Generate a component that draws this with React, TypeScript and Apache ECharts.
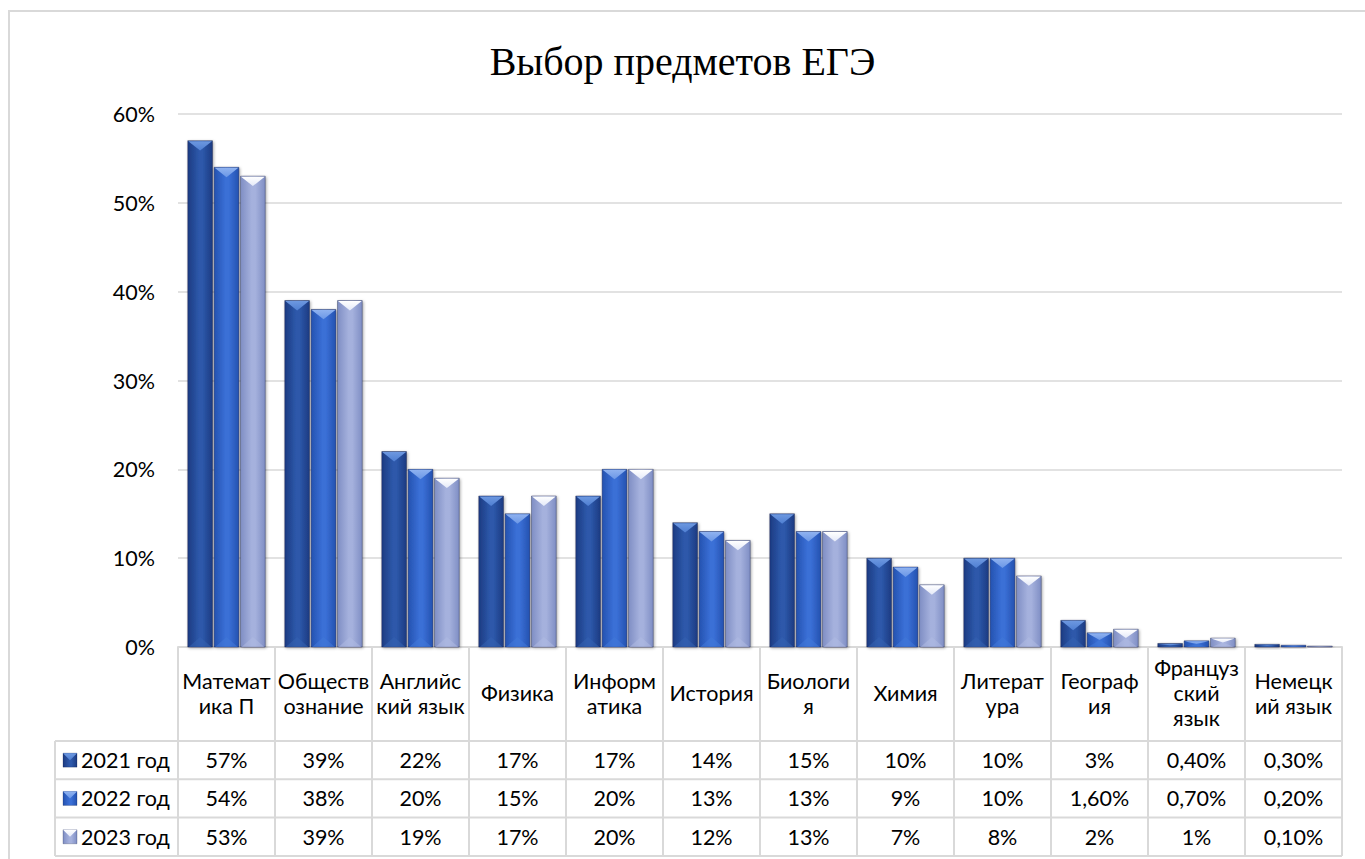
import React, { useEffect, useRef } from "react";
import * as echarts from "echarts";

const categories = [
  "Математика П", "Обществознание", "Английский язык", "Физика", "Информатика",
  "История", "Биология", "Химия", "Литература", "География", "Французский язык", "Немецкий язык",
];
const headerLabels = [
  "Математ\nика П", "Обществ\nознание", "Английс\nкий язык", "Физика", "Информ\nатика",
  "История", "Биологи\nя", "Химия", "Литерат\nура", "Географ\nия", "Француз\nский\nязык", "Немецк\nий язык",
];
const seriesNames = ["2021 год", "2022 год", "2023 год"];
const values2021 = [57, 39, 22, 17, 17, 14, 15, 10, 10, 3, 0.4, 0.3];
const values2022 = [54, 38, 20, 15, 20, 13, 13, 9, 10, 1.6, 0.7, 0.2];
const values2023 = [53, 39, 19, 17, 20, 12, 13, 7, 8, 2, 1, 0.1];
const yTicks = [0, 10, 20, 30, 40, 50, 60];
const allValues = [values2021, values2022, values2023];

const palettes = [
  { edge: "#1c3b82", mid: "#2d58aa", top: "#4f7fd2", topHi: "#6d98e0", bottom: "#3462b0" },
  { edge: "#2452b0", mid: "#3a6fd6", top: "#6b97e6", topHi: "#8fb2f0", bottom: "#4278d8" },
  { edge: "#7f8ec4", mid: "#a5b1dd", top: "#e4e9f8", topHi: "#ffffff", bottom: "#aeb9e2" },
];

const FONT = "Lato";
const FS = 21.5;
const W = 1365;
const H = 859;
const GRID_L = 178;
const GRID_R = 1342;
const GRID_T = 114;
const GRID_B = 647;
const HEADER_B = 741;
const ROW_H = 38.3;
const LEG_L = 55;
const LINE = "#d9d9d9";

function fmt(v: number): string {
  if (Number.isInteger(v)) return v + "%";
  return v.toFixed(2).replace(".", ",") + "%";
}

function bodyGradient(p: any) {
  return new echarts.graphic.LinearGradient(0, 0, 1, 0, [
    { offset: 0, color: p.edge },
    { offset: 0.45, color: p.mid },
    { offset: 0.6, color: p.mid },
    { offset: 1, color: p.edge },
  ]);
}

function topGradient(p: any) {
  return new echarts.graphic.LinearGradient(0, 0, 0, 1, [
    { offset: 0, color: p.topHi },
    { offset: 1, color: p.top },
  ]);
}

function makeRenderItem(s: number) {
  return (params: any, api: any) => {
    const idx = api.value(0);
    const v = api.value(1);
    const top = api.coord([idx, v]);
    const base = api.coord([idx, 0]);
    const band = api.size([1, 0])[0];
    const barW = band * 0.255;
    const gap = band * 0.017;
    const cx = top[0] + (s - 1) * (barW + gap);
    const x0 = cx - barW / 2;
    const x1 = cx + barW / 2;
    const yT = top[1];
    const yB = base[1];
    const h = Math.max(yB - yT, 0.5);
    const d = Math.min(barW * 0.4, h / 2);
    const p = palettes[s];
    return {
      type: "group",
      children: [
        {
          type: "rect",
          shape: { x: x0, y: yT, width: barW, height: h },
          style: {
            fill: bodyGradient(p),
            stroke: "rgba(10,20,60,0.45)",
            lineWidth: 0.8,
            shadowBlur: 3,
            shadowColor: "rgba(0,0,0,0.35)",
            shadowOffsetX: 1,
            shadowOffsetY: 1,
          },
        },
        {
          type: "polygon",
          shape: { points: [[x0 + 1, yB], [x1 - 1, yB], [cx, yB - d]] },
          style: { fill: p.bottom, opacity: 0.55 },
        },
        {
          type: "polygon",
          shape: { points: [[x0 + 0.5, yT + 0.5], [x1 - 0.5, yT + 0.5], [cx, yT + d]] },
          style: { fill: topGradient(p) },
        },
      ],
    };
  };
}

function legendKey(x: number, y: number, s: number) {
  const p = palettes[s];
  const size = 14;
  return {
    type: "group",
    children: [
      {
        type: "rect",
        shape: { x, y: y - size / 2, width: size, height: size },
        style: { fill: bodyGradient(p), stroke: "rgba(10,20,60,0.4)", lineWidth: 0.6 },
      },
      {
        type: "polygon",
        shape: { points: [[x, y - size / 2], [x + size, y - size / 2], [x + size / 2, y]] },
        style: { fill: topGradient(p) },
      },
    ],
  };
}

export default function App() {
  const ref = useRef<HTMLDivElement>(null);
  useEffect(() => {
    if (!ref.current) return;
    const chart = echarts.init(ref.current, null, { renderer: "svg" });
    const n = categories.length;
    const band = (GRID_R - GRID_L) / n;
    const graphics: any[] = [];

    graphics.push({
      type: "rect",
      shape: { x: 9, y: 11, width: 1500, height: 1000 },
      style: { fill: "none", stroke: LINE, lineWidth: 2 },
      silent: true,
    });

    for (let i = 0; i <= n; i++) {
      const x = GRID_L + band * i;
      graphics.push({
        type: "line",
        shape: { x1: x, y1: GRID_B, x2: x, y2: HEADER_B + ROW_H * 3 },
        style: { stroke: LINE, lineWidth: 2 },
      });
    }
    graphics.push({
      type: "line",
      shape: { x1: LEG_L, y1: HEADER_B, x2: LEG_L, y2: HEADER_B + ROW_H * 3 },
      style: { stroke: LINE, lineWidth: 2 },
    });
    for (let r = 0; r <= 3; r++) {
      const y = HEADER_B + ROW_H * r;
      graphics.push({
        type: "line",
        shape: { x1: LEG_L, y1: y, x2: GRID_R, y2: y },
        style: { stroke: LINE, lineWidth: 2 },
      });
    }
    for (let r = 0; r < 3; r++) {
      const yc = HEADER_B + ROW_H * r + ROW_H / 2;
      graphics.push(legendKey(63, yc, r));
      graphics.push({
        type: "text",
        style: {
          text: seriesNames[r], x: 81, y: yc, align: "left", verticalAlign: "middle",
          fontSize: FS, fontFamily: FONT, fill: "#000",
        },
      });
      for (let i = 0; i < n; i++) {
        graphics.push({
          type: "text",
          style: {
            text: fmt(allValues[r][i]), x: GRID_L + band * (i + 0.5), y: yc,
            align: "center", verticalAlign: "middle",
            fontSize: FS, fontFamily: FONT, fill: "#000",
          },
        });
      }
    }

    chart.setOption({
      animation: false,
      backgroundColor: "#fff",
      title: {
        text: "Выбор предметов ЕГЭ",
        left: "center",
        top: 36,
        textStyle: { fontFamily: "Liberation Serif", fontSize: 40, fontWeight: "normal", color: "#000" },
      },
      grid: { left: GRID_L, right: W - GRID_R, top: GRID_T, bottom: H - GRID_B, containLabel: false },
      xAxis: {
        type: "category",
        data: categories,
        axisLine: { lineStyle: { color: LINE, width: 2 } },
        axisTick: { show: false },
        axisLabel: {
          interval: 0,
          formatter: (_v: string, i: number) => headerLabels[i],
          fontFamily: FONT,
          fontSize: FS,
          lineHeight: 25,
          color: "#000",
          verticalAlign: "middle",
          margin: 46,
        },
      },
      yAxis: {
        type: "value",
        min: yTicks[0],
        max: yTicks[yTicks.length - 1],
        interval: 10,
        axisLine: { show: false },
        axisTick: { show: false },
        splitLine: { lineStyle: { color: LINE, width: 1.5 } },
        axisLabel: { formatter: "{value}%", fontFamily: FONT, fontSize: FS, color: "#000", margin: 23 },
      },
      series: allValues.map((vals, s) => ({
        type: "custom",
        name: seriesNames[s],
        renderItem: makeRenderItem(s),
        encode: { x: 0, y: 1 },
        data: vals.map((v, i) => [i, v]),
        z: 3,
      })),
      graphic: graphics,
    });
    return () => chart.dispose();
  }, []);
  return <div ref={ref} style={{ position: "absolute", left: 0, top: 0, width: W, height: H }} />;
}
